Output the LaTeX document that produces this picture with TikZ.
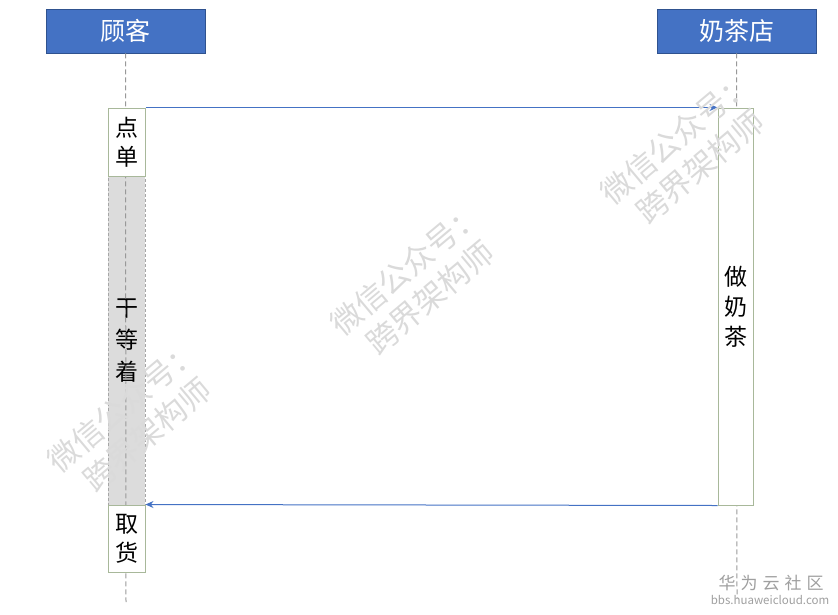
\documentclass[tikz,border=0pt]{standalone}
\usepackage{fontspec}
\setmainfont{Noto Sans CJK SC}
\usetikzlibrary{arrows.meta,backgrounds}
\definecolor{hdrblue}{HTML}{4472C4}
\definecolor{hdrline}{HTML}{2F528F}
\definecolor{actline}{HTML}{A8B89A}
\definecolor{msgblue}{HTML}{4472C4}
\definecolor{waitfill}{HTML}{DCDCDC}
\definecolor{wmark}{HTML}{DADADA}
\begin{document}
\begin{tikzpicture}[x=1pt,y=-1pt,
  hdr/.style={draw=hdrline,line width=0.8pt,fill=hdrblue,text=white,minimum width=159pt,minimum height=44pt,inner sep=0pt,font=\fontsize{25}{28}\selectfont},
  life/.style={draw=gray!80,line width=1pt,dash pattern=on 5pt off 3pt},
  act/.style={draw=actline,line width=1pt,fill=white,inner sep=0pt,align=center,font=\fontsize{23}{29}\selectfont},
  wait/.style={draw=gray!70,line width=0.8pt,dash pattern=on 3pt off 2pt,fill=waitfill,inner sep=0pt,align=center,font=\fontsize{23}{32}\selectfont},
  msg/.style={draw=msgblue,line width=1pt,-{Stealth[length=8pt,width=7pt]}},
  wm/.style={text=wmark,rotate=40,align=center,font=\fontsize{31}{37}\selectfont}
]
\useasboundingbox (0,0) rectangle (838,614);
% headers
\node[hdr] (gk) at (125.5,31) {顾客};
\node[hdr] (nc) at (736.5,31) {奶茶店};
\coordinate (gkend) at (126,602);
\coordinate (ncend) at (737,598);
% waiting box (below lifeline)
\node[wait,minimum width=37pt,minimum height=329pt] (gd) at (126.5,340.5) {干\\等\\着};
% lifelines
\draw[life] (gk.south) -- (gkend);
\draw[life] (nc.south) -- (ncend);
% activation boxes
\node[act,minimum width=37pt,minimum height=68pt] (dd) at (126.5,142) {点\\单};
\node[act,minimum width=37pt,minimum height=67pt] (qh) at (126.5,538.5) {取\\货};
\node[act,minimum width=35pt,minimum height=397pt,font=\fontsize{23}{30}\selectfont] (zn) at (735.5,306.5) {做\\奶\\茶};
% messages
\draw[msg] (dd.north east) -- (zn.north west);
\draw[msg] (zn.south west) -- (qh.north east);
% watermarks
\node[wm] (wm1) at (688,152) {微信公众号：\\跨界架构师};
\node[wm] (wm2) at (418,283) {微信公众号：\\跨界架构师};
\node[wm] (wm3) at (135,420) {微信公众号：\\跨界架构师};
% site mark
\node[text=gray!75,font=\fontsize{17}{20}\selectfont,inner sep=0pt] (hw) at (771,583) {华\hspace{5pt}为\hspace{5pt}云\hspace{5pt}社\hspace{5pt}区};
\node[text=gray!75,font=\fontsize{11.5}{13}\selectfont,inner sep=0pt] (hwurl) at (770,600) {bbs.huaweicloud.com};
\end{tikzpicture}
\end{document}
